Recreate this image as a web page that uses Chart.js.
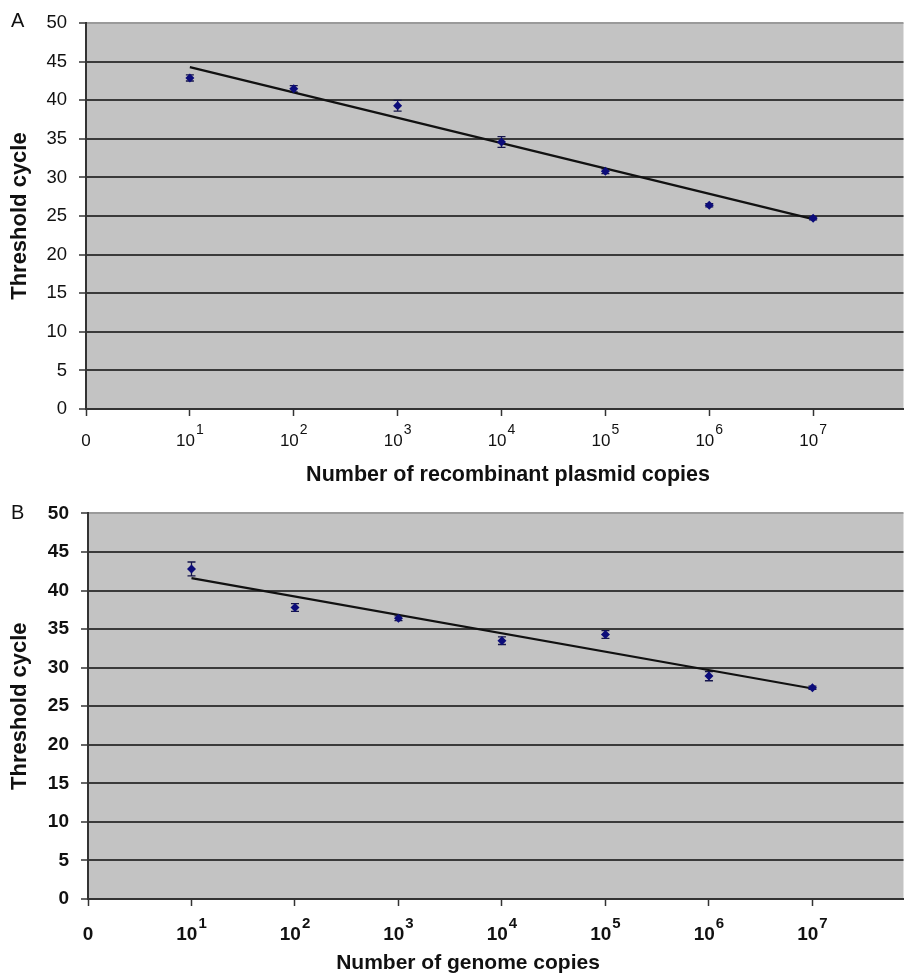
<!DOCTYPE html>
<html><head><meta charset="utf-8">
<script src="https://cdn.jsdelivr.net/npm/chart.js@4.4.1/dist/chart.umd.min.js"></script>
<style>
html,body{margin:0;padding:0;background:#fff;}
#wrap{position:relative;width:904px;height:977px;overflow:hidden;}
.panel{position:absolute;left:0;width:908px;}
#pa{top:0;height:490px;}
#pb{top:490px;height:487px;}
.lbl{position:absolute;font-family:'Liberation Sans',Arial,sans-serif;font-size:20px;color:#111;line-height:1;}
</style></head><body>
<div id="wrap">
<div class="panel" id="pa"><canvas id="ca"></canvas></div>
<div class="panel" id="pb"><canvas id="cb"></canvas></div>
<div class="lbl" style="left:11px;top:10px;">A</div>
<div class="lbl" style="left:11px;top:502px;">B</div>
</div>
<script>
// ---- data ----
const xTickValues = [0, 1, 2, 3, 4, 5, 6, 7];
const xTickBase   = ['0', '10', '10', '10', '10', '10', '10', '10'];
const xTickExp    = ['', '1', '2', '3', '4', '5', '6', '7'];

const copiesExpA = [1, 2, 3, 4, 5, 6, 7];
const cycleA     = [42.9, 41.5, 39.3, 34.6, 30.8, 26.4, 24.7];
const errA       = [0.4, 0.4, 0.7, 0.7, 0.3, 0.2, 0.2];
const trendXA    = [1, 7];
const trendYA    = [44.3, 24.6];

const copiesExpB = [1, 2, 3, 4, 5, 6, 7];
const cycleB     = [42.8, 37.8, 36.4, 33.5, 34.3, 28.9, 27.4];
const errB       = [0.9, 0.5, 0.3, 0.5, 0.5, 0.6, 0.2];
const trendXB    = [1, 7];
const trendYB    = [41.6, 27.3];

const yTitle = 'Threshold cycle';
const xTitleA = 'Number of recombinant plasmid copies';
const xTitleB = 'Number of genome copies';

// ---- drawing ----
const REG = "'Liberation Sans', Arial, sans-serif";

const bgPlugin = {
  id: 'bg',
  beforeDraw(c) {
    const a = c.chartArea, ctx = c.ctx;
    ctx.save(); ctx.fillStyle = '#c3c3c3';
    ctx.fillRect(a.left, a.top, a.right - a.left, a.bottom - a.top);
    ctx.restore();
  }
};
const errPlugin = {
  id: 'errbars',
  beforeDatasetsDraw(c, args, o) {
    const meta = c.getDatasetMeta(0), ys = c.scales.y, ctx = c.ctx;
    ctx.save(); ctx.strokeStyle = '#15154a'; ctx.lineWidth = 1.3;
    meta.data.forEach((pt, i) => {
      const v = c.data.datasets[0].data[i].y, e = o.err[i];
      const y1 = ys.getPixelForValue(v + e), y2 = ys.getPixelForValue(v - e), x = pt.x;
      ctx.beginPath();
      ctx.moveTo(x, y1); ctx.lineTo(x, y2);
      ctx.moveTo(x - 4, y1); ctx.lineTo(x + 4, y1);
      ctx.moveTo(x - 4, y2); ctx.lineTo(x + 4, y2);
      ctx.stroke();
    });
    ctx.restore();
  }
};
const labelPlugin = {
  id: 'xlabels',
  afterDraw(c, args, o) {
    const xs = c.scales.x, ctx = c.ctx, bot = c.chartArea.bottom;
    ctx.save(); ctx.fillStyle = '#111'; ctx.textBaseline = 'alphabetic'; ctx.textAlign = 'left';
    xTickValues.forEach((v, i) => {
      const px = xs.getPixelForValue(v);
      ctx.font = o.mainFont;
      const w1 = ctx.measureText(xTickBase[i]).width;
      ctx.font = o.expFont;
      const w2 = xTickExp[i] ? ctx.measureText(xTickExp[i]).width + 1 : 0;
      const x0 = px - (w1 + w2) / 2;
      ctx.font = o.mainFont;
      ctx.fillText(xTickBase[i], x0, bot + o.baseOff);
      if (xTickExp[i]) { ctx.font = o.expFont; ctx.fillText(xTickExp[i], x0 + w1 + 1, bot + o.baseOff - o.expRise); }
    });
    ctx.font = o.titleFont; ctx.textAlign = 'center';
    ctx.fillText(o.title, o.titleX, bot + o.titleOff);
    ctx.restore();
  }
};

function makeChart(id, xs, ys, err, tx, ty, p) {
  return new Chart(document.getElementById(id), {
    type: 'scatter',
    data: {
      datasets: [
        { data: xs.map((x, i) => ({ x, y: ys[i] })), pointStyle: 'rectRot', radius: 4.5,
          backgroundColor: '#0c0c7a', borderColor: '#0c0c7a', borderWidth: 0, showLine: false },
        { data: tx.map((x, i) => ({ x, y: ty[i] })), showLine: true, borderColor: '#111',
          borderWidth: 2.2, pointRadius: 0, fill: false }
      ]
    },
    options: {
      responsive: true, maintainAspectRatio: false, animation: false, devicePixelRatio: 1,
      layout: { padding: { top: p.padTop, right: 1, left: 0, bottom: 0 } },
      plugins: {
        legend: { display: false }, tooltip: { enabled: false },
        errbars: { err },
        xlabels: p.labels
      },
      scales: {
        x: {
          type: 'linear', min: 0, max: p.xmax,
          afterBuildTicks: s => { s.ticks = xTickValues.map(v => ({ value: v })); },
          afterFit: s => { s.height = p.xH; },
          ticks: { display: false },
          grid: { drawOnChartArea: false, drawTicks: true, tickLength: 7, tickColor: '#333', tickWidth: 1.5 },
          border: { display: true, color: '#333', width: 2 }
        },
        y: {
          min: 0, max: 50,
          afterFit: s => { s.width = p.yW; },
          ticks: { stepSize: 5, color: '#111', font: p.yFont, padding: 12 },
          grid: { color: ctx => ctx.tick && ctx.tick.value === 50 ? '#9a9a9a' : '#3a3a3a', lineWidth: 2,
                  drawTicks: true, tickLength: 7, tickColor: '#333', tickWidth: 1.5 },
          border: { display: true, color: '#333', width: 2 },
          title: { display: true, text: yTitle, color: '#111', font: p.yTitleFont, padding: { top: 7, bottom: 0 } }
        }
      }
    },
    plugins: [bgPlugin, errPlugin, labelPlugin]
  });
}

makeChart('ca', copiesExpA, cycleA, errA, trendXA, trendYA, {
  padTop: 15, xmax: 7.87, xH: 81, yW: 86,
  yFont: { family: REG, size: 18.5 },
  yTitleFont: { family: REG, size: 22, weight: 'bold' },
  labels: { mainFont: '17px ' + REG, expFont: '14px ' + REG, baseOff: 37, expRise: 12,
            titleFont: 'bold 21.5px ' + REG, title: xTitleA, titleX: 508, titleOff: 72 }
});
makeChart('cb', copiesExpB, cycleB, errB, trendXB, trendYB, {
  padTop: 22, xmax: 7.88, xH: 78, yW: 88,
  yFont: { family: REG, size: 19, weight: 'bold' },
  yTitleFont: { family: REG, size: 22, weight: 'bold' },
  labels: { mainFont: 'bold 19px ' + REG, expFont: 'bold 15px ' + REG, baseOff: 41, expRise: 12,
            titleFont: 'bold 21px ' + REG, title: xTitleB, titleX: 468, titleOff: 70 }
});
</script>
</body></html>
